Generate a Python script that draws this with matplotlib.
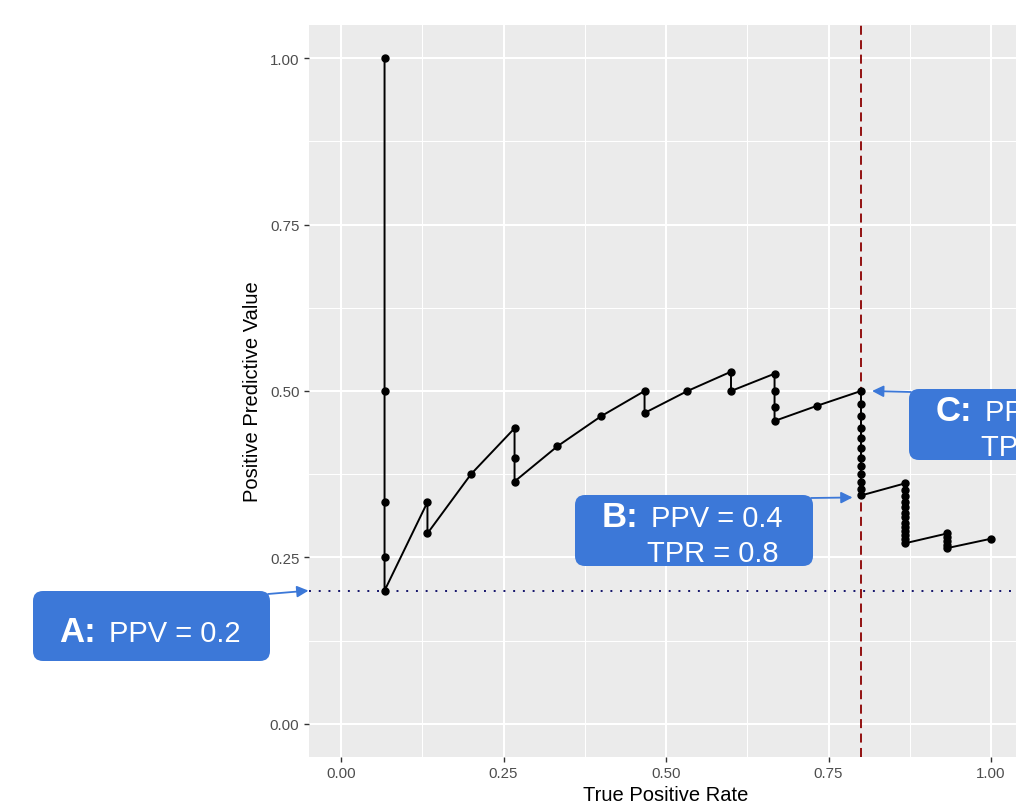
import matplotlib.pyplot as plt
from matplotlib.patches import FancyBboxPatch
from matplotlib.ticker import MultipleLocator

# Curva precision-recall
TPR = [0.067, 0.067, 0.067, 0.067, 0.067,
       0.133, 0.133,
       0.200,
       0.267, 0.267, 0.267,
       0.333,
       0.400,
       0.467, 0.467,
       0.533,
       0.600, 0.600,
       0.667, 0.667, 0.667, 0.667,
       0.733,
       0.800, 0.800, 0.800, 0.800, 0.800, 0.800, 0.800, 0.800, 0.800, 0.800, 0.800, 0.800,
       0.867, 0.867, 0.867, 0.867, 0.867, 0.867, 0.867, 0.867, 0.867, 0.867, 0.867, 0.867, 0.867,
       0.933, 0.933, 0.933, 0.933, 0.933,
       1.000]
PPV = [1.000, 0.500, 0.333, 0.250, 0.200,
       0.333, 0.286,
       0.375,
       0.444, 0.400, 0.364,
       0.417,
       0.462,
       0.500, 0.467,
       0.500,
       0.529, 0.500,
       0.526, 0.500, 0.476, 0.455,
       0.478,
       0.500, 0.480, 0.462, 0.444, 0.429, 0.414, 0.400, 0.387, 0.375, 0.364, 0.353, 0.343,
       0.361, 0.351, 0.342, 0.333, 0.325, 0.317, 0.310, 0.302, 0.295, 0.289, 0.283, 0.277, 0.271,
       0.286, 0.280, 0.275, 0.269, 0.264,
       0.278]

BASELINE_PPV = 0.2
CUT_TPR = 0.8
TICKS = [0.0, 0.25, 0.5, 0.75, 1.0]
TICK_LABELS = ["0.00", "0.25", "0.50", "0.75", "1.00"]

BLUE = "#3c78d8"
W, H = 1016, 804

plt.rcParams['font.family'] = ['Liberation Sans', 'DejaVu Sans']

fig = plt.figure(figsize=(W / 100, H / 100), dpi=100)
ax = fig.add_axes([308.5 / W, 46 / H, 715 / W, 732 / H])

# estilo ggplot
ax.set_facecolor("#ebebeb")
for s in ax.spines.values():
    s.set_visible(False)
ax.set_xlim(-0.05, 1.05)
ax.set_ylim(-0.05, 1.05)
ax.set_xticks(TICKS)
ax.set_yticks(TICKS)
ax.set_xticklabels(TICK_LABELS)
ax.set_yticklabels(TICK_LABELS)
ax.xaxis.set_minor_locator(MultipleLocator(0.125))
ax.yaxis.set_minor_locator(MultipleLocator(0.125))
ax.grid(which='major', color='white', linewidth=1.5)
ax.grid(which='minor', color='white', linewidth=0.75)
ax.set_axisbelow(True)
ax.tick_params(which='major', length=3.5, width=1.0, color='#333333',
               labelsize=10.8, labelcolor='#4d4d4d', pad=3)
ax.tick_params(which='minor', length=0)

# linhas de referencia
ax.axhline(BASELINE_PPV, color='#14146b', linestyle=(0, (1, 4)), linewidth=1.4, zorder=2)
ax.axvline(CUT_TPR, color='#8b0000', linestyle=(0, (5, 3)), linewidth=1.3, zorder=2)

# curva
ax.plot(TPR, PPV, color='black', linewidth=1.4, marker='o', markersize=5, zorder=3)

fig.text(252 / W, 1 - 392 / H, "Positive Predictive Value", rotation=90,
         ha='center', va='center', fontsize=14.5)
fig.text(666 / W, 1 - 796 / H, "True Positive Rate", ha='center', va='center', fontsize=14.5)

# caixas de anotacao (coordenadas em pixels)
ov = fig.add_axes([0, 0, 1, 1], zorder=5)
ov.set_xlim(0, W)
ov.set_ylim(H, 0)
ov.axis('off')
ov.patch.set_alpha(0)


def box(x, y, w, h):
    ov.add_patch(FancyBboxPatch((x, y), w, h, boxstyle='round,pad=0,rounding_size=10',
                                facecolor=BLUE, edgecolor='none'))


def arrow(xy, xycoords, start):
    ax.annotate('', xy=xy, xycoords=xycoords, xytext=start, textcoords=ov.transData,
                arrowprops=dict(arrowstyle='-|>', color=BLUE, lw=1.3, mutation_scale=17,
                                shrinkA=0, shrinkB=0),
                annotation_clip=False, zorder=4)


# A
box(33, 592, 237, 70)
ov.text(59, 642, "A:", color='white', fontsize=25, fontweight='bold', ha='left', va='baseline')
ov.text(109, 642, "PPV = 0.2", color='white', fontsize=21, ha='left', va='baseline')
arrow((0, BASELINE_PPV), ('axes fraction', 'data'), (268, 595))

# B
box(575, 496, 238, 71)
ov.text(602, 527, "B:", color='white', fontsize=25, fontweight='bold', ha='left', va='baseline')
ov.text(651, 527, "PPV = 0.4", color='white', fontsize=21, ha='left', va='baseline')
ov.text(647, 562, "TPR = 0.8", color='white', fontsize=21, ha='left', va='baseline')
arrow((0.787, 0.340), 'data', (811, 499))

# C (cortada na borda direita, como no original)
box(909, 390, 238, 71)
ov.text(936, 421, "C:", color='white', fontsize=25, fontweight='bold', ha='left', va='baseline')
ov.text(985, 421, "PPV = 0.5", color='white', fontsize=21, ha='left', va='baseline')
ov.text(981, 456, "TPR = 0.8", color='white', fontsize=21, ha='left', va='baseline')
arrow((0.817, 0.500), 'data', (911, 393))

fig.savefig("out.png", dpi=100)
